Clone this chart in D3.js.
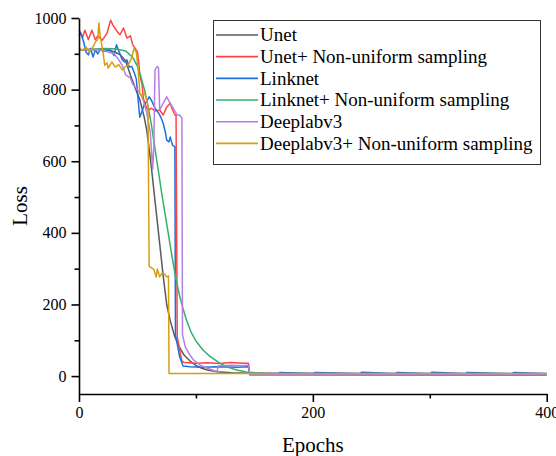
<!DOCTYPE html>
<html>
<head>
<meta charset="utf-8">
<script src="https://cdn.jsdelivr.net/npm/d3@7"></script>
<style>
  body { margin: 0; background: #fff; }
</style>
</head>
<body>
<div id="chart"></div>
<script>
// values (epoch, loss)
const unetEpochs = [0,5,10,15,20,25,30,35,40,44,48,52,56,58,60,62,64,66,68,70,72,75,78,82,86,90,95,100,105,110,118,130,145,200,300,400];
const unetLoss   = [910,912,913,912,911,910,906,898,880,840,805,772,720,685,635,580,520,460,400,340,280,200,155,109,80,58,42,30,22,17,12,9,8,7,6,6];

const unetNuEpochs = [0,1,3,5,8,11,14,16,20,24,27,29,33,35,38,41,44,46,50,51,52,54,55,57,59,62,65,69,72,75,78,80,82,83,84,88,90,100,110,120,130,140,145,146,160,200,250,300,350,400];
const unetNuLoss   = [950,958,945,966,940,966,939,950,938,958,994,980,961,953,972,944,950,925,905,877,841,813,776,755,743,748,740,743,729,751,762,743,729,729,110,42,38,36,37,35,38,36,36,3,3,3,3,3,3,3];

const linknetEpochs = [0,2,4,6,8,10,12,14,16,18,21,24,27,30,32,35,37,39,41,43,45,47,49,50,52,54,56,58,60,62,64,66,68,70,72,74,75,77,78,80,82,82.5,84,86,89,95,105,120,135,145,146,170,172,200,202,240,242,270,272,300,302,330,332,370,372,400];
const linknetLoss   = [966,955,933,905,897,915,891,911,900,912,906,910,911,895,925,900,883,877,883,863,865,850,830,790,723,740,760,768,780,770,755,743,735,723,706,679,659,654,668,645,640,115,90,55,28,26,25,26,25,26,7,7,10,7,10,7,11,7,10,7,11,7,10,7,10,7];

const linknetNuEpochs = [0,10,20,30,40,46,50,53,56,59,62,65,68,71,74,77,80,83,86,89,92,96,100,106,112,120,127,135,144,160,180,250,400];
const linknetNuLoss   = [910,912,915,914,908,890,865,835,800,755,700,635,570,505,445,385,325,270,225,188,156,122,98,73,55,37,25,17,11,7,5,4,3];

const deeplabEpochs = [0,5,10,15,20,25,30,33,37,40,44,46,50,53,55,58,61,63,64,65,67,68,69,72,75,78,80,82,84,86,88,88.5,91,95,98,104,110,118,119,130,140,145,146,200,300,400];
const deeplabLoss   = [910,912,910,912,910,905,900,888,868,841,832,815,800,785,770,735,679,578,640,855,865,860,743,762,780,762,751,740,729,729,720,115,81,58,45,30,22,12,28,30,29,30,5,5,5,5];

const deeplabNuEpochs = [0,3,6,9,12,14,16,17,18,20.5,22,24,25,28,31,34,37,40,42,45,47,49,50.5,52,54,56,58,59,60,62,64,66,67,69,71,73,75,76.5,77,90,150,200,300,400];
const deeplabNuLoss   = [916,910,919,905,920,933,940,986,953,905,868,875,860,877,863,870,855,865,868,888,915,905,860,790,780,790,771,751,307,302,298,277,299,277,288,285,277,280,7,7,7,7,7,7];

const seriesNames  = ["Unet", "Unet+ Non-uniform sampling", "Linknet", "Linknet+ Non-uniform sampling", "Deeplabv3", "Deeplabv3+ Non-uniform sampling"];
const seriesColors = ["#5a5a5a", "#ff4444", "#1f6fe0", "#35b06c", "#b77fe0", "#d4a012"];
const xMajorTicks = [0, 200, 400];
const xMinorTicks = [100, 300];
const yMajorTicks = [0, 200, 400, 600, 800, 1000];
const yMinorTicks = [100, 300, 500, 700, 900];

const allEpochs = [unetEpochs, unetNuEpochs, linknetEpochs, linknetNuEpochs, deeplabEpochs, deeplabNuEpochs];
const allLoss   = [unetLoss, unetNuLoss, linknetLoss, linknetNuLoss, deeplabLoss, deeplabNuLoss];

const series = seriesNames.map((name, i) => ({
  name: name,
  color: seriesColors[i],
  values: allEpochs[i].map((e, j) => ({epoch: e, loss: allLoss[i][j]}))
}));

const serif = '"Liberation Serif", "Times New Roman", Times, "DejaVu Serif", serif';
const width = 556, height = 456;
const plotLeft = 79, plotRight = 546.7, plotTop = 18, plotBottom = 394;

const svg = d3.select('#chart').append('svg')
    .attr('width', width)
    .attr('height', height)
    .style('font-family', serif);

const x = d3.scaleLinear().domain([0, 400]).range([plotLeft, plotRight]);
const y = d3.scaleLinear().domain([-50, 1000]).range([plotBottom, plotTop]);

const line = d3.line()
    .x(d => x(d.epoch))
    .y(d => y(d.loss));

// curves
svg.append('g')
  .selectAll('path')
  .data(series)
  .enter().append('path')
    .attr('d', d => line(d.values))
    .attr('fill', 'none')
    .attr('stroke', d => d.color)
    .attr('stroke-width', 1.5)
    .attr('stroke-linejoin', 'round');

// axes
const styleAxis = g => {
  g.attr('font-family', null).attr('font-size', null);
  g.selectAll('.domain').attr('stroke', '#000').attr('stroke-width', 1.6);
  g.selectAll('.tick line').attr('stroke', '#000').attr('stroke-width', 1.6);
  g.selectAll('.tick text')
      .style('font-family', serif)
      .style('font-size', '16px')
      .attr('fill', '#000');
};

svg.append('g')
    .attr('transform', `translate(${plotLeft},0)`)
    .call(d3.axisLeft(y).tickValues(yMinorTicks).tickSize(4.5).tickSizeOuter(0).tickFormat(''))
    .call(styleAxis)
    .call(g => g.select('.domain').remove());

svg.append('g')
    .attr('transform', `translate(${plotLeft},0)`)
    .call(d3.axisLeft(y).tickValues(yMajorTicks).tickSize(7.5).tickSizeOuter(0).tickPadding(5).tickFormat(d3.format('d')))
    .call(styleAxis);

svg.append('g')
    .attr('transform', `translate(0,${plotBottom})`)
    .call(d3.axisBottom(x).tickValues(xMinorTicks).tickSize(4.5).tickSizeOuter(0).tickFormat(''))
    .call(styleAxis)
    .call(g => g.select('.domain').remove());

svg.append('g')
    .attr('transform', `translate(0,${plotBottom})`)
    .call(d3.axisBottom(x).tickValues(xMajorTicks).tickSize(8).tickSizeOuter(0).tickPadding(5).tickFormat(d3.format('d')))
    .call(styleAxis);

// axis titles
svg.append('text')
    .attr('x', (plotLeft + plotRight) / 2)
    .attr('y', 452)
    .attr('text-anchor', 'middle')
    .style('font-family', serif)
    .style('font-size', '21px')
    .text('Epochs');

svg.append('text')
    .attr('transform', 'translate(27,206) rotate(-90)')
    .attr('text-anchor', 'middle')
    .style('font-family', serif)
    .style('font-size', '21px')
    .text('Loss');

// legend
const legend = svg.append('g');
legend.append('rect')
    .attr('x', 213.5).attr('y', 20.5)
    .attr('width', 327).attr('height', 144)
    .attr('fill', '#fff')
    .attr('stroke', '#333')
    .attr('stroke-width', 1);

const item = legend.selectAll('g.item')
    .data(series)
  .enter().append('g')
    .attr('class', 'item')
    .attr('transform', (d, i) => `translate(0,${35 + i * 21.67})`);

item.append('line')
    .attr('x1', 216).attr('x2', 258)
    .attr('stroke', d => d.color)
    .attr('stroke-width', 1.6);

item.append('text')
    .attr('x', 260)
    .attr('dy', '0.34em')
    .style('font-family', serif)
    .style('font-size', '19px')
    .text(d => d.name);
</script>
</body>
</html>
